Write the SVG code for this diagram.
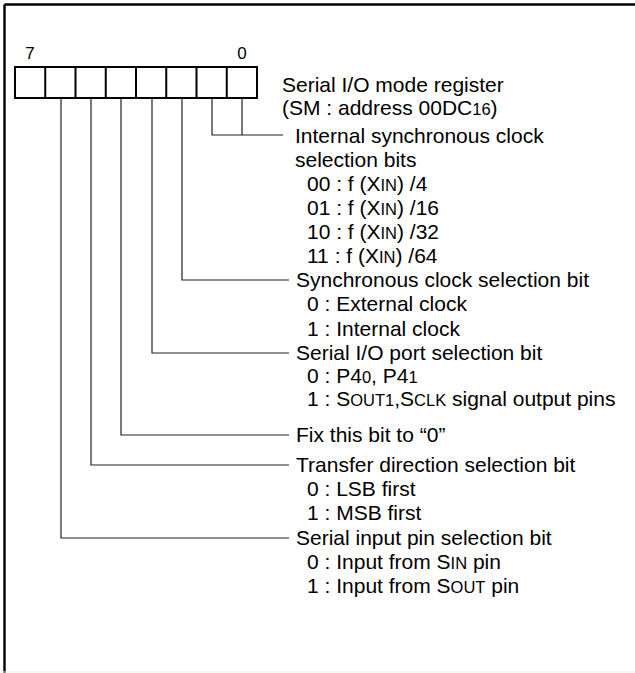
<svg xmlns="http://www.w3.org/2000/svg" width="635" height="673" viewBox="0 0 635 673">
<style>
text{font-family:"Liberation Sans",Arial,sans-serif;font-size:21px;fill:#000}
.s{font-size:16.5px}
.bitno{font-size:17px}
.cell{fill:#fff;stroke:#000;stroke-width:2}
.div{stroke:#000;stroke-width:2}
.conn{fill:none;stroke:#222;stroke-width:1.2}
</style>
<rect x="0" y="0" width="635" height="673" fill="#fff"/>
<g id="frame">
<line x1="4.5" y1="4.5" x2="635" y2="4.5" stroke="#000" stroke-width="2.4"/>
<line x1="4.5" y1="4.5" x2="4.5" y2="673" stroke="#000" stroke-width="2.4"/>
<line x1="0" y1="672" x2="635" y2="672" stroke="#eeeeee" stroke-width="1"/>
</g>
<g id="register">
<text class="bitno" x="30" y="59" text-anchor="middle">7</text>
<text class="bitno" x="242" y="59" text-anchor="middle">0</text>
<rect class="cell" x="15" y="67" width="242" height="31"/>
<line class="div" x1="45.25" y1="67" x2="45.25" y2="98"/>
<line class="div" x1="75.5" y1="67" x2="75.5" y2="98"/>
<line class="div" x1="105.75" y1="67" x2="105.75" y2="98"/>
<line class="div" x1="136" y1="67" x2="136" y2="98"/>
<line class="div" x1="166.25" y1="67" x2="166.25" y2="98"/>
<line class="div" x1="196.5" y1="67" x2="196.5" y2="98"/>
<line class="div" x1="226.75" y1="67" x2="226.75" y2="98"/>
<text x="282" y="92">Serial I/O mode register</text>
<text x="282" y="115">(SM : address 00DC<tspan class="s">16</tspan>)</text>
</g>
<g id="connectors">
<path class="conn" d="M212,98 V135 H283 M242,98 V135"/>
<path class="conn" d="M182,98 V280 H289"/>
<path class="conn" d="M152,98 V353 H289"/>
<path class="conn" d="M121,98 V435 H289"/>
<path class="conn" d="M91,98 V465 H289"/>
<path class="conn" d="M61,98 V538 H289"/>
</g>
<g id="bits10">
<text x="295" y="143">Internal synchronous clock</text>
<text x="295" y="167">selection bits</text>
<text x="307" y="191">00 : f (X<tspan class="s">IN</tspan>) /4</text>
<text x="307" y="215">01 : f (X<tspan class="s">IN</tspan>) /16</text>
<text x="307" y="239">10 : f (X<tspan class="s">IN</tspan>) /32</text>
<text x="307" y="263">11 : f (X<tspan class="s">IN</tspan>) /64</text>
</g>
<g id="bit2">
<text x="296" y="287">Synchronous clock selection bit</text>
<text x="307" y="311">0 : External clock</text>
<text x="307" y="336">1 : Internal clock</text>
</g>
<g id="bit3">
<text x="296" y="360">Serial I/O port selection bit</text>
<text x="307" y="383">0 : P4<tspan class="s">0</tspan>, P4<tspan class="s">1</tspan></text>
<text x="307" y="406">1 : S<tspan class="s">OUT1</tspan>,S<tspan class="s">CLK</tspan> signal output pins</text>
</g>
<g id="bit4">
<text x="296" y="442">Fix this bit to “0”</text>
</g>
<g id="bit5">
<text x="296" y="472">Transfer direction selection bit</text>
<text x="307" y="496">0 : LSB first</text>
<text x="307" y="520">1 : MSB first</text>
</g>
<g id="bit6">
<text x="296" y="545">Serial input pin selection bit</text>
<text x="307" y="569">0 : Input from S<tspan class="s">IN</tspan> pin</text>
<text x="307" y="593">1 : Input from S<tspan class="s">OUT</tspan> pin</text>
</g>
</svg>
